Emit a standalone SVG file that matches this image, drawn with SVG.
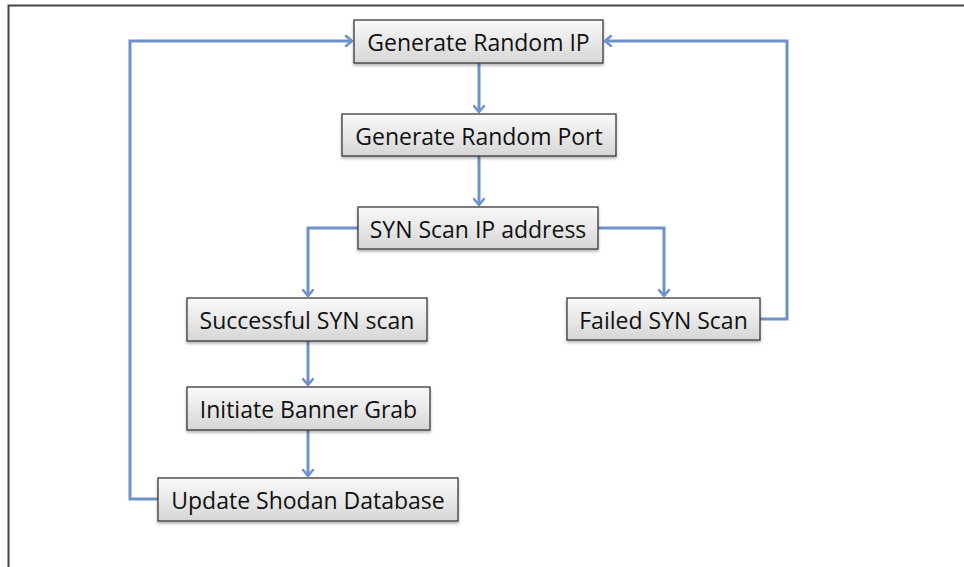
<svg xmlns="http://www.w3.org/2000/svg" width="964" height="567" viewBox="0 0 964 567">
<defs>
<linearGradient id="g" x1="0" y1="0" x2="0" y2="1">
<stop offset="0" stop-color="#fafafa"/>
<stop offset="1" stop-color="#d6d6d6"/>
</linearGradient>
<filter id="sh" x="-10%" y="-20%" width="120%" height="150%">
<feDropShadow dx="0" dy="2" stdDeviation="1.5" flood-color="#000" flood-opacity="0.3"/>
</filter>
<marker id="arr" markerWidth="12" markerHeight="12" refX="9" refY="6" orient="auto" markerUnits="userSpaceOnUse">
<path d="M3,1 L9,6 L3,11" fill="none" stroke="#6f92cb" stroke-width="2.5" stroke-linecap="round" stroke-linejoin="round"/>
</marker>
</defs>
<style>
.box{fill:url(#g);stroke:#3a3a3a;stroke-width:1.3;filter:url(#sh)}
.t{font-family:"Open Sans","Noto Sans",sans-serif;font-size:23px;fill:#111;text-anchor:middle;dominant-baseline:central}
.c{fill:none;stroke:#6f92cb;stroke-width:3;stroke-linejoin:miter}
</style>
<rect x="0" y="0" width="964" height="567" fill="#fff"/>
<rect x="8.5" y="5.5" width="1000" height="600" fill="none" stroke="#444" stroke-width="2"/>
<g id="connectors">
<path class="c" d="M158,499 H130 V41 H352" marker-end="url(#arr)"/>
<path class="c" d="M760,319 H787 V41 H605" marker-end="url(#arr)"/>
<path class="c" d="M479,63 V112" marker-end="url(#arr)"/>
<path class="c" d="M479,156 V205" marker-end="url(#arr)"/>
<path class="c" d="M358,228 H308 V296" marker-end="url(#arr)"/>
<path class="c" d="M598,228 H664 V296" marker-end="url(#arr)"/>
<path class="c" d="M308,341 V385" marker-end="url(#arr)"/>
<path class="c" d="M308,430 V476" marker-end="url(#arr)"/>
</g>
<g id="n1"><rect class="box" x="354" y="20" width="249" height="43"/><text class="t" x="478.5" y="42">Generate Random IP</text></g>
<g id="n2"><rect class="box" x="342" y="114" width="274" height="42"/><text class="t" x="479" y="135.5">Generate Random Port</text></g>
<g id="n3"><rect class="box" x="358" y="207" width="240" height="42"/><text class="t" x="478" y="228.5">SYN Scan IP address</text></g>
<g id="n4"><rect class="box" x="187" y="298" width="240" height="43"/><text class="t" x="307" y="320">Successful SYN scan</text></g>
<g id="n5"><rect class="box" x="567" y="298" width="193" height="42"/><text class="t" x="663.5" y="319.5">Failed SYN Scan</text></g>
<g id="n6"><rect class="box" x="187" y="387" width="243" height="43"/><text class="t" x="308.5" y="409">Initiate Banner Grab</text></g>
<g id="n7"><rect class="box" x="158" y="478" width="300" height="43"/><text class="t" x="308" y="500">Update Shodan Database</text></g>
</svg>
